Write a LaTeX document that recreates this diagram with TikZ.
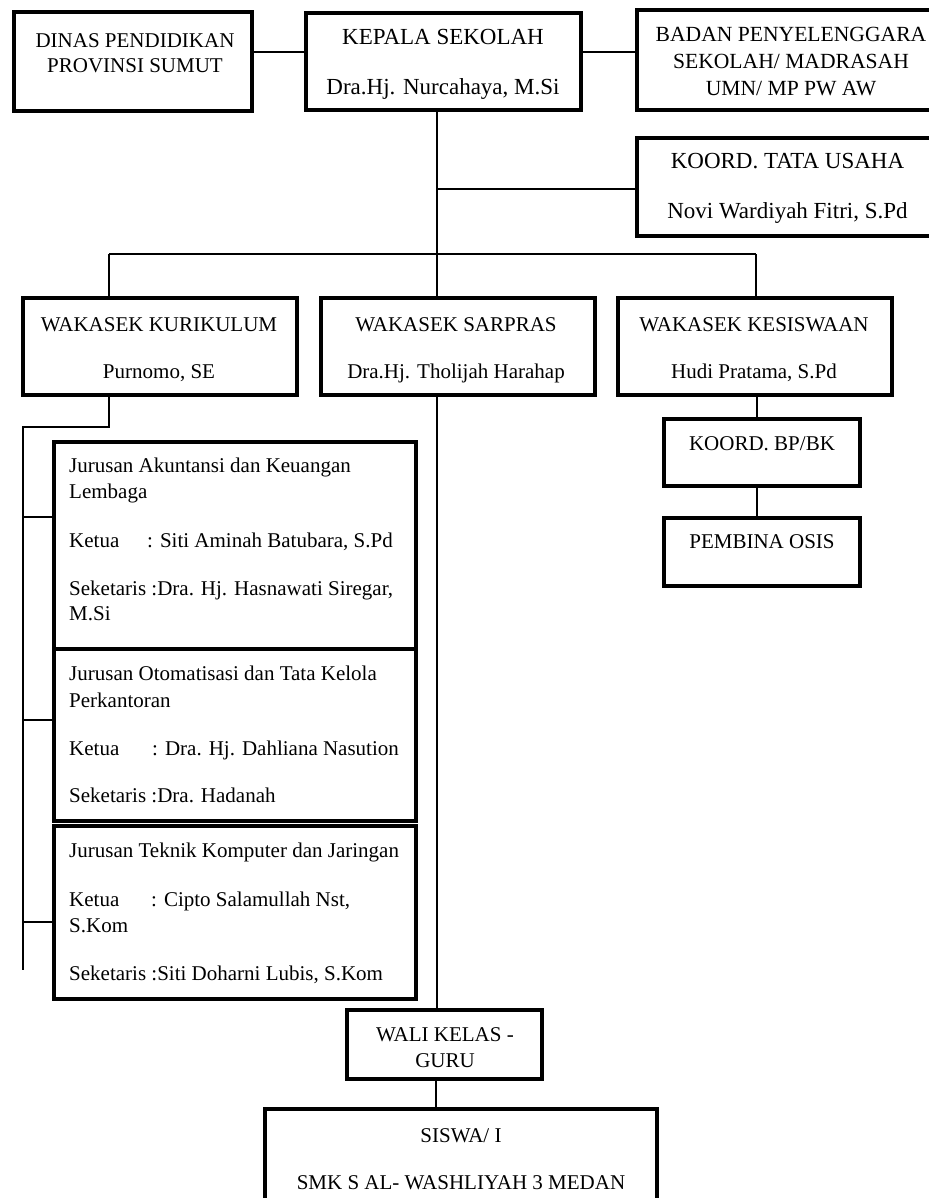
\documentclass[tikz,border=0pt]{standalone}
\usepackage{fontspec}
\setmainfont{Liberation Serif}
\begin{document}
\begin{tikzpicture}[x=1pt,y=-1pt,
  box/.style={draw, line width=4pt, rectangle, inner sep=0pt},
  conn/.style={line width=1.4pt},
  txt/.style={inner sep=0pt, anchor=base, font=\fontsize{21}{25}\selectfont},
  bigtxt/.style={txt, font=\fontsize{23}{27}\selectfont},
  midtxt/.style={txt, font=\fontsize{21.6}{26}\selectfont},
  ltxt/.style={txt, anchor=base west}]
\useasboundingbox (0,0) rectangle (928,1198);
% boxes
\node[box, minimum width=238pt, minimum height=99pt] (dinas) at (133,61.5) {};
\node[box, minimum width=275pt, minimum height=97pt] (kepala) at (443,61.5) {};
\node[box, minimum width=298pt, minimum height=100pt] (badan) at (786,60) {};
\node[box, minimum width=298pt, minimum height=98pt] (tata) at (786,187) {};
\node[box, minimum width=274pt, minimum height=97pt] (kur) at (160,346.5) {};
\node[box, minimum width=274pt, minimum height=97pt] (sar) at (458,346.5) {};
\node[box, minimum width=274pt, minimum height=97pt] (kes) at (755,346.5) {};
\node[box, minimum width=196pt, minimum height=67pt] (bpbk) at (762,452.5) {};
\node[box, minimum width=196pt, minimum height=68pt] (osis) at (762,552) {};
\node[box, minimum width=362pt, minimum height=207pt] (j1) at (235,545.5) {};
\node[box, minimum width=362pt, minimum height=172pt] (j2) at (235,735) {};
\node[box, minimum width=362pt, minimum height=173pt] (j3) at (235,912.5) {};
\node[box, minimum width=195pt, minimum height=69pt] (wali) at (444.5,1044.5) {};
\node[box, minimum width=392pt, minimum height=130pt] (siswa) at (461,1174) {};
% texts
\node[txt] (t-dinas1) at (135,48) {DINAS PENDIDIKAN};
\node[txt] (t-dinas2) at (135,73) {PROVINSI SUMUT};
\node[bigtxt] (t-kep1) at (443,45) {KEPALA SEKOLAH};
\node[bigtxt] (t-kep2) at (443,95) {Dra.Hj. Nurcahaya, M.Si};
\node[midtxt] (t-bad1) at (791,42) {BADAN PENYELENGGARA};
\node[midtxt] (t-bad2) at (791,69) {SEKOLAH/ MADRASAH};
\node[midtxt] (t-bad3) at (791,96) {UMN/ MP PW AW};
\node[bigtxt] (t-tata1) at (787.5,169) {KOORD. TATA USAHA};
\node[bigtxt] (t-tata2) at (787.5,219) {Novi Wardiyah Fitri, S.Pd};
\node[txt] (t-kur1) at (159,331) {WAKASEK KURIKULUM};
\node[txt] (t-kur2) at (159,378) {Purnomo, SE};
\node[txt] (t-sar1) at (456,331) {WAKASEK SARPRAS};
\node[txt] (t-sar2) at (456,378) {Dra.Hj. Tholijah Harahap};
\node[txt] (t-kes1) at (754,331) {WAKASEK KESISWAAN};
\node[txt] (t-kes2) at (754,378) {Hudi Pratama, S.Pd};
\node[txt] (t-bpbk) at (762,450) {KOORD. BP/BK};
\node[txt] (t-osis) at (762,548) {PEMBINA OSIS};
\node[txt] (t-wali1) at (445,1041) {WALI KELAS -};
\node[txt] (t-wali2) at (445,1067) {GURU};
\node[txt] (t-sis1) at (461,1142) {SISWA/ I};
\node[txt] (t-sis2) at (461,1189) {SMK S AL- WASHLIYAH 3 MEDAN};
% jurusan 1
\node[ltxt] (a1) at (69,472) {Jurusan Akuntansi dan Keuangan};
\node[ltxt] (a2) at (69,498) {Lembaga};
\node[ltxt] (a3) at (69,547) {Ketua};
\node[ltxt] (a4) at (147,547) {: Siti Aminah Batubara, S.Pd};
\node[ltxt] (a5) at (69,595) {Seketaris :Dra. Hj. Hasnawati Siregar,};
\node[ltxt] (a6) at (69,620) {M.Si};
% jurusan 2
\node[ltxt] (b1) at (69,680) {Jurusan Otomatisasi dan Tata Kelola};
\node[ltxt] (b2) at (69,707) {Perkantoran};
\node[ltxt] (b3) at (69,755) {Ketua};
\node[ltxt] (b4) at (152,755) {: Dra. Hj. Dahliana Nasution};
\node[ltxt] (b5) at (69,802) {Seketaris :Dra. Hadanah};
% jurusan 3
\node[ltxt] (c1) at (69,857) {Jurusan Teknik Komputer dan Jaringan};
\node[ltxt] (c2) at (69,906) {Ketua};
\node[ltxt] (c3) at (151,906) {: Cipto Salamullah Nst,};
\node[ltxt] (c4) at (69,932) {S.Kom};
\node[ltxt] (c5) at (69,980) {Seketaris :Siti Doharni Lubis, S.Kom};
% coordinates
\coordinate (tr1) at (437,189);
\coordinate (barL) at (109,254);
\coordinate (barR) at (756,254);
\coordinate (k1) at (109,427);
\coordinate (k2) at (23,427);
\coordinate (k3) at (23,970);
% connectors
\draw[conn] (dinas.east |- 0,52) -- (kepala.west |- 0,52);
\draw[conn] (kepala.east |- 0,52) -- (badan.west |- 0,52);
\draw[conn] (kepala.south -| tr1) -- (sar.north -| tr1);
\draw[conn] (tr1) -- (tata.west |- tr1);
\draw[conn] (barL) -- (barR);
\draw[conn] (barL) -- (kur.north -| barL);
\draw[conn] (barR) -- (kes.north -| barR);
\draw[conn] (kur.south -| k1) -- (k1) -- (k2) -- (k3);
\draw[conn] (23,517) -- (j1.west |- 0,517);
\draw[conn] (23,720) -- (j2.west |- 0,720);
\draw[conn] (23,922) -- (j3.west |- 0,922);
\draw[conn] (kes.south -| 757,0) -- (bpbk.north -| 757,0);
\draw[conn] (bpbk.south -| 757,0) -- (osis.north -| 757,0);
\draw[conn] (sar.south -| tr1) -- (wali.north -| tr1);
\draw[conn] (wali.south -| 436,0) -- (siswa.north -| 436,0);
\end{tikzpicture}
\end{document}
